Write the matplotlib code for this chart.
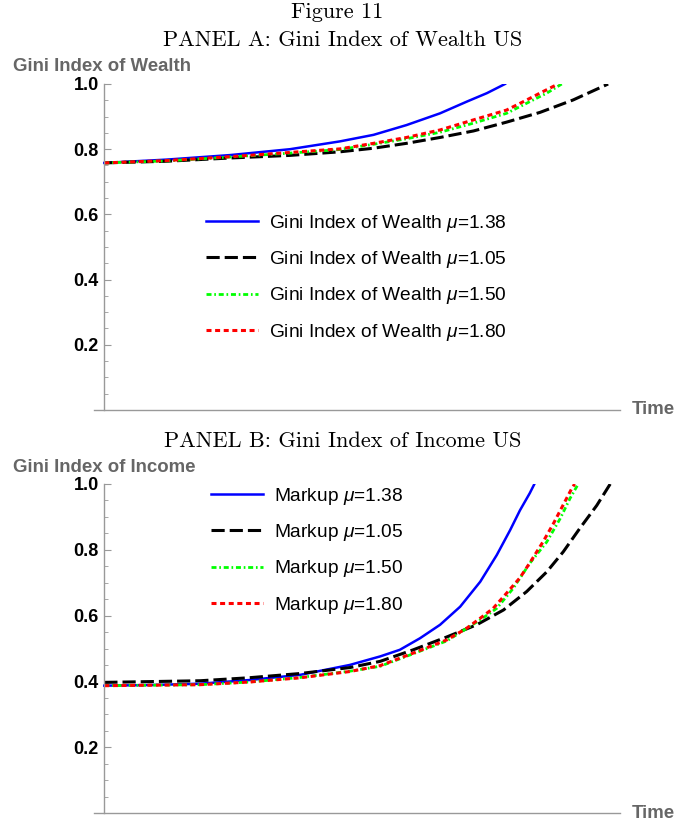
import matplotlib
matplotlib.use("Agg")
import matplotlib.pyplot as plt
from matplotlib.ticker import MultipleLocator

plt.rcParams['font.family'] = ['Liberation Sans', 'DejaVu Sans']
plt.rcParams['mathtext.fontset'] = 'custom'
plt.rcParams['mathtext.rm'] = 'Liberation Sans'
plt.rcParams['mathtext.it'] = 'Liberation Sans:italic'
plt.rcParams['lines.scale_dashes'] = False

# ---------- Panel A data: Gini index of wealth ----------
tA_138 = [0, 12, 24.4, 36, 45.7, 52.2, 58.6, 65.1, 70.3, 74.2, 77.7]
gA_138 = [0.758, 0.768, 0.782, 0.800, 0.824, 0.844, 0.874, 0.910, 0.946, 0.972, 1.0]
tA_105 = [0, 12, 24.4, 36, 45.7, 52.2, 58.6, 65.1, 71.6, 78.0, 84.5, 90.9, 97.7]
gA_105 = [0.758, 0.763, 0.773, 0.781, 0.792, 0.803, 0.818, 0.836, 0.856, 0.883, 0.913, 0.951, 1.0]
tA_150 = [0, 12, 24.4, 36, 45.7, 52.2, 58.6, 65.1, 71.6, 78.0, 81.9, 85.8, 88.7]
gA_150 = [0.758, 0.764, 0.776, 0.788, 0.799, 0.815, 0.832, 0.852, 0.880, 0.910, 0.941, 0.972, 1.0]
tA_180 = [0, 12, 24.4, 36, 45.7, 52.2, 58.6, 65.1, 71.6, 78.0, 81.9, 85.1, 88.0]
gA_180 = [0.758, 0.765, 0.777, 0.790, 0.801, 0.818, 0.836, 0.859, 0.890, 0.920, 0.951, 0.977, 1.0]

# ---------- Panel B data: Gini index of income ----------
tB_138 = [0, 9, 18.6, 28, 38, 47.6, 53.5, 57.3, 61.2, 65.1, 69.0, 72.9, 76.1, 78.7, 80.6, 82.5, 83.4]
gB_138 = [0.387, 0.389, 0.393, 0.404, 0.420, 0.450, 0.476, 0.496, 0.531, 0.572, 0.627, 0.703, 0.784,
          0.860, 0.920, 0.972, 1.0]
tB_105 = [0, 18.6, 28, 38, 47.6, 53.5, 59.9, 66.4, 72.2, 77.4, 81.9, 85.8, 89.0, 92.2, 95.5, 98.1]
gB_105 = [0.397, 0.402, 0.411, 0.424, 0.442, 0.461, 0.496, 0.535, 0.572, 0.617, 0.673, 0.733, 0.794,
          0.865, 0.935, 1.0]
tB_150 = [0, 18.6, 28, 38, 47.6, 53.5, 59.9, 66.4, 72.9, 76.1, 79.3, 82.5, 85.8, 88.4, 90.3, 91.9]
gB_150 = [0.387, 0.390, 0.398, 0.412, 0.431, 0.446, 0.484, 0.523, 0.587, 0.622, 0.683, 0.759, 0.824,
          0.895, 0.956, 1.0]
tB_180 = [0, 18.6, 28, 38, 47.6, 53.5, 59.9, 66.4, 70.3, 72.9, 75.4, 78.0, 80.6, 82.5, 85.1, 87.1, 89.0,
          90.6, 91.2]
gB_180 = [0.387, 0.390, 0.398, 0.411, 0.430, 0.448, 0.486, 0.526, 0.562, 0.592, 0.622, 0.668, 0.715,
          0.760, 0.825, 0.880, 0.937, 0.985, 1.0]

mu_labels = ['1.38', '1.05', '1.50', '1.80']

# line styles (blue solid, black long dash, green dash-dot, red short dash)
styles = [
    dict(color='#0000ff', lw=1.8, ls='-'),
    dict(color='black', lw=2.2, ls=(0, (9.5, 3.6))),
    dict(color='#00ff00', lw=2.0, ls=(0, (3.6, 2.0, 1.2, 2.0))),
    dict(color='#ff0000', lw=2.2, ls=(0, (3.6, 2.6))),
]

fig = plt.figure(figsize=(6.75, 8.22), dpi=100)

title_font = dict(family='cmr10', size=16, ha='center', va='center')
fig.text(0.5, 1 - 12/822, "Figure 11", **title_font)
fig.text(0.508, 1 - 40/822, "PANEL A: Gini Index of Wealth US", **title_font)
fig.text(0.508, 1 - 441/822, "PANEL B: Gini Index of Income US", **title_font)

axA = fig.add_axes([94/675, 1 - 410/822, 526/675, 326/822])
axB = fig.add_axes([94/675, 1 - 813/822, 526/675, 329/822])


def style_axis(ax, ylabel):
    ax.set_xlim(-2, 100)
    ax.set_ylim(0, 1.0)
    ax.spines['top'].set_visible(False)
    ax.spines['right'].set_visible(False)
    ax.spines['left'].set_position(('data', 0))
    ax.spines['left'].set_bounds(0, 1.0)
    for s in ['left', 'bottom']:
        ax.spines[s].set_color('#999999')
        ax.spines[s].set_linewidth(1.0)
    ax.set_xticks([])
    ax.yaxis.set_major_locator(MultipleLocator(0.2))
    ax.yaxis.set_minor_locator(MultipleLocator(0.05))
    ax.set_yticks([0.2, 0.4, 0.6, 0.8, 1.0])
    ax.set_yticklabels(['0.2', '0.4', '0.6', '0.8', '1.0'])
    ax.tick_params(axis='y', which='major', direction='in', length=5,
                   color='#999999', labelsize=13, pad=4)
    ax.tick_params(axis='y', which='minor', direction='in', length=3,
                   color='#999999')
    for lab in ax.get_yticklabels():
        lab.set_fontweight('bold')
    ax.annotate(ylabel, xy=(0, 1), xycoords='axes fraction',
                xytext=(-81, 17), textcoords='offset pixels',
                ha='left', va='center', fontsize=13.4, fontweight='bold',
                color='#666666')
    ax.annotate('Time', xy=(1, 0), xycoords='axes fraction',
                xytext=(12, 0), textcoords='offset pixels',
                ha='left', va='center', fontsize=13.4, fontweight='bold',
                color='#666666', annotation_clip=False)


# Panel A
seriesA = [(tA_138, gA_138), (tA_105, gA_105), (tA_150, gA_150), (tA_180, gA_180)]
for (t, g), st, mu in zip(seriesA, styles, mu_labels):
    axA.plot(t, g, label='Gini Index of Wealth $\\mu$=' + mu, **st)
style_axis(axA, 'Gini Index of Wealth')
axA.legend(loc='upper left', bbox_to_anchor=(0.213, 0.605), frameon=False,
           fontsize=13.8, handlelength=2.7, handletextpad=0.6,
           labelspacing=0.8, borderpad=0, borderaxespad=0)

# Panel B
seriesB = [(tB_138, gB_138), (tB_105, gB_105), (tB_150, gB_150), (tB_180, gB_180)]
for (t, g), st, mu in zip(seriesB, styles, mu_labels):
    axB.plot(t, g, label='Markup $\\mu$=' + mu, **st)
style_axis(axB, 'Gini Index of Income')
axB.legend(loc='upper left', bbox_to_anchor=(0.222, 0.995), frameon=False,
           fontsize=13.8, handlelength=2.7, handletextpad=0.6,
           labelspacing=0.8, borderpad=0, borderaxespad=0)

fig.savefig('out.png', dpi=100)
